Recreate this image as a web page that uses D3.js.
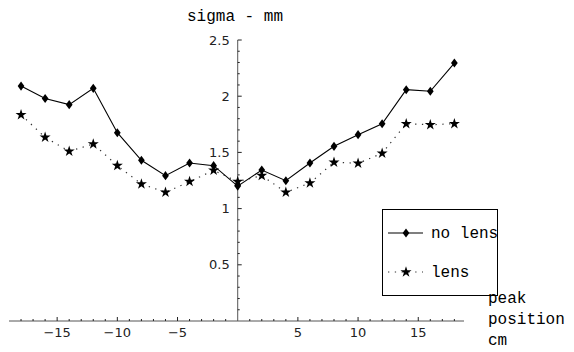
<!DOCTYPE html>
<html>
<head>
<meta charset="utf-8">
<script src="https://cdn.jsdelivr.net/npm/d3@7"></script>
<style>
  body { margin: 0; background: #fff; }
  svg { display: block; }
  .mono { font-family: "Liberation Mono", "DejaVu Sans Mono", monospace; font-size: 16px; fill: #000; }
  .tick text { font-family: "DejaVu Sans", sans-serif; font-size: 13px; fill: #222; }
</style>
</head>
<body>
<svg id="chart" width="574" height="352"></svg>
<script>
// peak position (cm)
const positions = [-18, -16, -14, -12, -10, -8, -6, -4, -2, 0, 2, 4, 6, 8, 10, 12, 14, 16, 18];
// sigma (mm)
const noLens = [2.09, 1.98, 1.925, 2.07, 1.675, 1.43, 1.293, 1.406, 1.382, 1.2, 1.343, 1.248,
                1.406, 1.554, 1.658, 1.755, 2.058, 2.044, 2.295];
const lens = [1.835, 1.634, 1.51, 1.575, 1.382, 1.219, 1.145, 1.24, 1.34, 1.24, 1.293, 1.145,
              1.228, 1.412, 1.403, 1.492, 1.755, 1.746, 1.755];
const xTicks = [-15, -10, -5, 5, 10, 15];
const yTicks = [0.5, 1, 1.5, 2, 2.5];
const seriesNames = ['no lens', 'lens'];

const svg = d3.select('#chart');

const x = d3.scaleLinear().domain([-19, 18.8]).range([9, 464]);
const y = d3.scaleLinear().domain([0, 2.5]).range([321, 40]);

// y axis with ticks pointing right
const yAxis = svg.append('g').attr('transform', `translate(${x(0)},0)`);
yAxis.append('line').attr('y1', y(0)).attr('y2', y(2.5)).attr('stroke', '#555');
yAxis.selectAll('.minor').data(d3.range(1, 25).map(d => d / 10))
  .enter().append('line')
  .attr('x1', 0).attr('x2', d => (Math.round(d * 10) % 5 === 0 ? 4 : 2))
  .attr('y1', d => y(d)).attr('y2', d => y(d))
  .attr('stroke', '#222');
yAxis.append('line').attr('x1', 0).attr('x2', 4).attr('y1', y(2.5)).attr('y2', y(2.5)).attr('stroke', '#222');
yAxis.selectAll('.tick').data(yTicks).enter().append('g').attr('class', 'tick')
  .append('text')
  .attr('x', -8).attr('y', d => y(d)).attr('dy', '0.35em')
  .attr('text-anchor', 'end')
  .text(d => d3.format('')(d));

// x axis with ticks pointing up
const xAxis = svg.append('g').attr('transform', `translate(0,${y(0)})`);
xAxis.append('line').attr('x1', x(-19)).attr('x2', x(18.8)).attr('stroke', '#555');
xAxis.selectAll('.minor').data(d3.range(-18, 19).filter(d => d !== 0))
  .enter().append('line')
  .attr('x1', d => x(d)).attr('x2', d => x(d))
  .attr('y1', 0).attr('y2', d => (d % 5 === 0 ? -4 : -2))
  .attr('stroke', '#222');
xAxis.selectAll('.tick').data(xTicks).enter().append('g').attr('class', 'tick')
  .append('text')
  .attr('x', d => x(d)).attr('y', 11).attr('dy', '0.35em')
  .attr('text-anchor', 'middle')
  .text(d => d < 0 ? '\u2212' + Math.abs(d) : d);

// axis labels
svg.append('text').attr('class', 'mono').attr('x', 187).attr('y', 21).text('sigma - mm');
const xl = svg.append('text').attr('class', 'mono').attr('x', 488).attr('y', 303);
['peak', 'position', 'cm'].forEach((t, i) =>
  xl.append('tspan').attr('x', 488).attr('dy', i === 0 ? 0 : 21).text(t));

const line = d3.line().x(d => x(d[0])).y(d => y(d[1]));
const diamond = d3.symbol().type(d3.symbolDiamond2).size(40);
const star = d3.symbol().type(d3.symbolStar).size(38);

const ptsNo = positions.map((p, i) => [p, noLens[i]]);
const ptsLens = positions.map((p, i) => [p, lens[i]]);

svg.append('path').datum(ptsLens).attr('d', line)
  .attr('fill', 'none').attr('stroke', '#333').attr('stroke-width', 1.2)
  .attr('stroke-dasharray', '1.3,5.5');
svg.append('path').datum(ptsNo).attr('d', line)
  .attr('fill', 'none').attr('stroke', '#000').attr('stroke-width', 1.1);

svg.selectAll('.d').data(ptsNo).enter().append('path')
  .attr('d', diamond).attr('fill', '#000')
  .attr('transform', d => `translate(${x(d[0])},${y(d[1])}) scale(0.85,1.15)`);
svg.selectAll('.s').data(ptsLens).enter().append('path')
  .attr('d', star).attr('fill', '#000')
  .attr('transform', d => `translate(${x(d[0])},${y(d[1])})`);

// legend
const lg = svg.append('g');
lg.append('rect').attr('x', 382.5).attr('y', 209.5).attr('width', 115).attr('height', 86)
  .attr('fill', 'none').attr('stroke', '#000').attr('stroke-width', 1);
lg.append('line').attr('x1', 388).attr('x2', 423).attr('y1', 233).attr('y2', 233)
  .attr('stroke', '#000').attr('stroke-width', 1.1);
lg.append('path').attr('d', diamond).attr('fill', '#000')
  .attr('transform', 'translate(406,233) scale(0.85,1.15)');
lg.append('line').attr('x1', 388).attr('x2', 423).attr('y1', 272).attr('y2', 272)
  .attr('stroke', '#333').attr('stroke-width', 1.2).attr('stroke-dasharray', '1.3,5.5');
lg.append('path').attr('d', star).attr('fill', '#000').attr('transform', 'translate(406,272)');
lg.append('text').attr('class', 'mono').attr('x', 431).attr('y', 238).text(seriesNames[0]);
lg.append('text').attr('class', 'mono').attr('x', 431).attr('y', 277).text(seriesNames[1]);
</script>
</body>
</html>
